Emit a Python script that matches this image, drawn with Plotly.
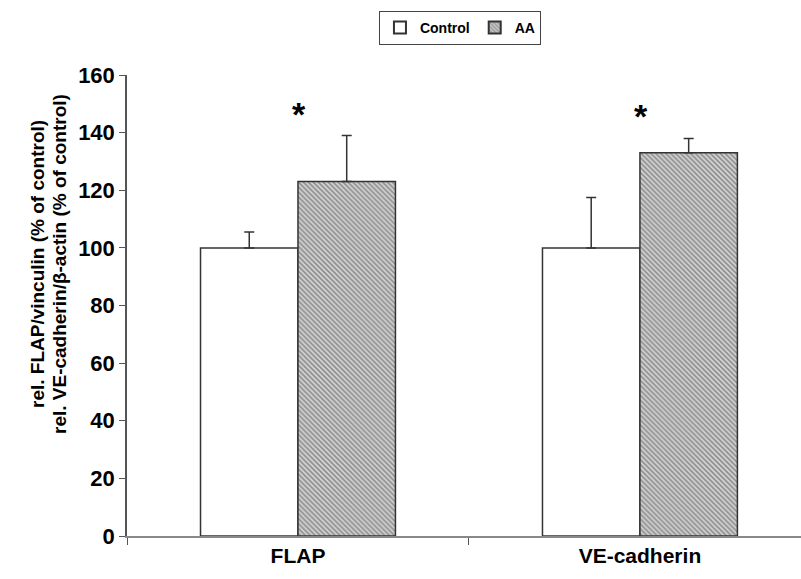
import plotly.graph_objects as go

# Western blot quantification, mean and SD, as % of control
categories = ["FLAP", "VE-cadherin"]
control_mean = [100, 100]
control_sd = [5.5, 17.5]
aa_mean = [123, 133]
aa_sd = [16, 5]
significant = [True, True]
y_title_lines = ["rel. FLAP/vinculin (% of control)",
                 "rel. VE-cadherin/β-actin (% of control)"]

font_family = "Liberation Sans, Arial, sans-serif"
line_col = "#333333"

fig = go.Figure()
fig.add_trace(go.Bar(
    name="<b>Control</b>", x=categories, y=control_mean,
    marker=dict(color="white", line=dict(color=line_col, width=1.5)),
    error_y=dict(type="data", array=control_sd, symmetric=False,
                 arrayminus=[0, 0], color=line_col, thickness=1.5, width=5),
))
fig.add_trace(go.Bar(
    name="<b>AA</b>", x=categories, y=aa_mean,
    marker=dict(color="white", line=dict(color=line_col, width=1.5),
                pattern=dict(shape="\\", fgcolor="#4a4a4a", bgcolor="#d4d4d4",
                             size=3.5, solidity=0.5)),
    error_y=dict(type="data", array=aa_sd, symmetric=False,
                 arrayminus=[0, 0], color=line_col, thickness=1.5, width=5),
))

# Significance markers above the treated bars
for cat, m, s, sig in zip(categories, aa_mean, aa_sd, significant):
    if sig:
        fig.add_annotation(x=cat, y=m + s, text="<b>*</b>", showarrow=False,
                           xshift=1, yanchor="bottom", yshift=1,
                           font=dict(family=font_family, size=34, color="black"),
                           xref="x", yref="y")

# Two-line rotated y-axis title, set as separate lines for tight spacing
for i, line in enumerate(y_title_lines):
    fig.add_annotation(text=f"<b>{line}</b>", textangle=-90, showarrow=False,
                       xref="paper", yref="paper",
                       x=(37 + 22 * i - 127) / 674, y=0.59,
                       xanchor="center", yanchor="middle",
                       font=dict(family=font_family, size=19, color="black"))

fig.update_layout(
    width=801, height=579,
    margin=dict(l=127, r=0, t=75, b=43),
    paper_bgcolor="white", plot_bgcolor="white",
    barmode="group", bargap=0.43, bargroupgap=0,
    font=dict(family=font_family, color="black"),
    legend=dict(orientation="h", x=0.494, xanchor="center", y=1.139, yanchor="top",
                bordercolor="#444444", borderwidth=1,
                font=dict(family=font_family, size=14, color="black"),
                itemwidth=30, tracegroupgap=0,
                itemsizing="constant"),
    showlegend=True,
)
fig.update_xaxes(
    type="category", range=[-0.5, 1.471],
    tickson="boundaries", ticks="outside", ticklen=7, tickcolor="#555555",
    showline=True, linecolor="#888888", linewidth=2,
    showgrid=False, zeroline=False,
    tickfont=dict(family=font_family, size=21, color="black"),
    tickprefix="<b>", ticksuffix="</b>",
)
fig.update_yaxes(
    range=[0, 160], dtick=20, ticks="outside", ticklen=6, tickcolor="#555555",
    showline=True, linecolor="#555555", linewidth=1.5,
    showgrid=False, zeroline=False,
    tickfont=dict(family=font_family, size=22, color="black"),
    tickprefix="<b>", ticksuffix="</b>",
)

fig.write_html("out.html")
